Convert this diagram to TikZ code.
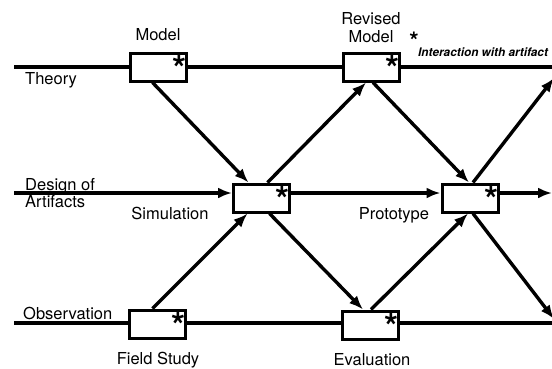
\documentclass[tikz,border=0pt]{standalone}
\usepackage{fontspec}
\setmainfont{TeX Gyre Heros}
\usetikzlibrary{arrows.meta}

\begin{document}
\begin{tikzpicture}[x=1pt,y=-1pt]
\tikzstyle{every node}+=[inner sep=0pt]
\tikzstyle{stage}=[draw, line width=3pt, fill=white, minimum width=56pt, minimum height=28pt]
\tikzstyle{lbl}=[font=\fontsize{16.5}{18}\selectfont]
\tikzstyle{astr}=[font=\fontsize{36}{36}\selectfont\bfseries, anchor=north east]
\tikzstyle{track}=[line width=3.2pt]
\tikzstyle{flow}=[line width=3.4pt, -{Latex[length=14pt,width=11pt]}]
\clip (0,0) rectangle (552,368);
% the three lanes
\coordinate (t0) at (14,67);
\coordinate (t1) at (560,67);
\coordinate (d0) at (14,193);
\coordinate (d1) at (552,193);
\coordinate (o0) at (14,323);
\coordinate (o1) at (560,323);
\coordinate (up) at (554,78);
\coordinate (down) at (554,319);
\draw [track] (t0) -- (t1);
\draw [track] (o0) -- (o1);
% stages
\node [stage] (model) at (158.5,67) {};
\node [stage] (revised) at (371,67) {};
\node [stage] (sim) at (261.5,198) {};
\node [stage] (proto) at (470,198) {};
\node [stage] (field) at (157.5,324) {};
\node [stage] (eval) at (370,325) {};
\foreach \s in {model,revised,sim,proto,field,eval}
  \node [astr] at ([xshift=-1pt,yshift=-4pt]\s.north east) {*};
% design lane
\draw [flow] (d0) -- (d0 -| sim.west);
\draw [flow] (sim.east |- d0) -- (proto.west |- d0);
\draw [flow] (proto.east |- d0) -- (d1);
% crossings
\draw [flow] ([xshift=-6pt]model.south) -- ([xshift=-13pt]sim.north);
\draw [flow] ([xshift=-5pt]field.north) -- ([xshift=-14pt]sim.south);
\draw [flow] ([xshift=6pt]sim.north) -- ([xshift=-5pt]revised.south);
\draw [flow] ([xshift=8pt]sim.south) -- ([xshift=-7pt]eval.north);
\draw [flow] ([xshift=2pt]revised.south) -- ([xshift=-1pt]proto.north);
\draw [flow] ([xshift=1pt]eval.north) -- ([xshift=-2pt]proto.south);
\draw [flow] ([xshift=3pt]proto.north) -- (up);
\draw [flow] ([xshift=3pt]proto.south) -- (down);
% labels
\node [lbl, anchor=base] (lmodel) at (158,40) {Model};
\node [lbl, align=center, font=\fontsize{16.5}{18}\selectfont] (lrevised) at (371,27.5) {Revised\\Model};
\node [lbl, anchor=base west] (ltheory) at (25,84) {Theory};
\node [lbl, align=left, anchor=north west, font=\fontsize{16.5}{13.5}\selectfont] (ldesign) at (25,178.5) {Design of\\Artifacts};
\node [lbl, anchor=base west] (lobs) at (23,319) {Observation};
\node [lbl, anchor=base] (lsim) at (170,219) {Simulation};
\node [lbl, anchor=base] (lproto) at (394,219) {Prototype};
\node [lbl, anchor=base] (lfield) at (158,364) {Field Study};
\node [lbl, anchor=base] (leval) at (372,365) {Evaluation};
\node [font=\fontsize{24}{24}\selectfont\bfseries] (nstar) at (414,41) {*};
\node [anchor=west, font=\fontsize{11.8}{12}\selectfont\bfseries\itshape] (lnote) at (418,52) {Interaction with artifact};
\end{tikzpicture}
\end{document}
